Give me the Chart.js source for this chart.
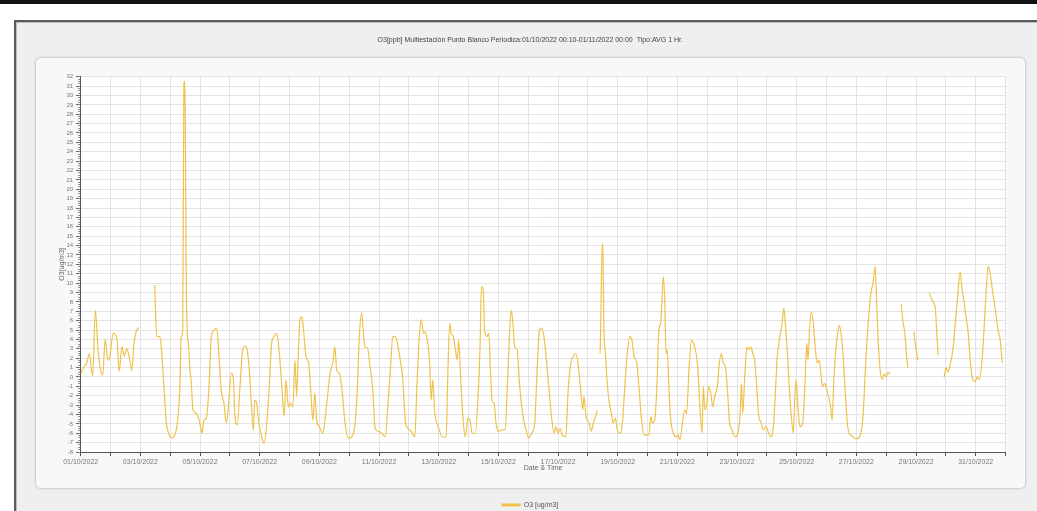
<!DOCTYPE html>
<html>
<head>
<meta charset="utf-8">
<script src="https://cdn.jsdelivr.net/npm/chart.js@4/dist/chart.umd.min.js"></script>
<style>
  html, body { margin: 0; padding: 0; width: 1037px; height: 511px; overflow: hidden; background: #ffffff; }
  .topbar { position: absolute; left: 0; top: 0; width: 1037px; height: 4px; background: #111; }
  .outer { position: absolute; left: 14px; top: 20px; width: 1040px; height: 520px; background: #efefef;
           border-top: 2px solid #5c5c5c; border-left: 2px solid #5c5c5c; box-shadow: inset 1px 1px 0 #bdbdbd; }
  .inner { position: absolute; left: 35px; top: 57px; width: 989px; height: 430px; background: #f8f8f8;
           border: 1px solid #d2d2d2; border-radius: 6px; box-shadow: 0 0 3px rgba(0,0,0,0.10); }
  canvas { position: absolute; left: 0; top: 0; }
</style>
</head>
<body>
<div class="topbar"></div>
<div class="outer"></div>
<div class="inner"></div>
<canvas id="c" width="1037" height="522"></canvas>
<script>
// Time in days since 01/10/2022 00:00, O3 values; null = gap in the record
const days = [
  0.00,0.09,0.20,0.29,0.40,0.49,0.59,0.67,0.74,0.82,0.91,0.98,1.09,1.21,1.29,1.38,1.46,1.54,1.63,1.71,1.79,1.88,1.96,
  2.20,
  2.48,2.50,2.55,2.65,2.70,2.79,2.87,2.95,3.04,3.15,3.24,3.32,3.37,3.42,3.46,3.49,3.51,3.54,3.57,3.62,3.66,3.71,3.76,3.88,3.99,
  4.07,4.13,4.21,4.29,4.38,4.47,4.56,4.63,4.71,4.80,4.88,4.96,5.05,5.12,5.17,5.25,5.34,5.43,5.51,5.58,5.65,5.72,5.79,5.83,5.90,5.97,
  6.07,6.14,6.24,6.32,6.40,6.48,6.57,6.66,6.74,6.82,6.88,6.96,7.02,7.11,7.18,7.24,7.29,7.35,7.41,7.46,7.55,7.64,7.71,7.78,7.85,7.91,
  8.00,8.11,8.25,8.36,8.45,8.52,8.58,8.67,8.76,8.86,8.97,9.08,9.20,9.27,9.34,9.42,9.47,9.53,9.61,9.70,9.79,9.87,9.98,
  10.09,10.21,10.30,10.38,10.46,10.55,10.64,10.71,10.79,10.88,10.97,11.08,11.20,11.27,11.35,11.42,11.49,11.55,11.62,11.69,11.75,11.80,11.87,11.94,
  12.02,12.11,12.25,12.31,12.37,12.42,12.49,12.56,12.62,12.67,12.74,12.81,12.89,12.98,13.05,13.12,13.23,13.32,13.39,13.43,13.49,13.54,13.61,13.68,13.73,13.79,13.86,13.92,
  14.01,14.12,14.23,14.30,14.37,14.43,14.49,14.55,14.63,14.70,14.77,14.85,14.93,15.02,15.11,15.22,15.30,15.38,15.44,15.53,15.62,15.70,15.78,15.87,15.93,
  16.00,16.07,16.14,16.26,16.34,16.43,16.51,16.59,16.67,16.76,16.83,16.87,16.94,17.04,17.12,17.18,17.26,17.32,
  17.37,
  17.41,17.43,17.48,17.50,17.54,17.59,17.65,17.72,17.79,17.85,17.92,17.99,18.08,18.16,18.24,18.32,18.41,18.48,18.55,18.64,18.72,18.79,18.88,
  19.05,19.11,19.16,19.24,19.31,19.38,19.44,19.49,19.53,19.58,19.62,19.66,19.72,19.78,19.87,19.95,
  20.02,20.09,20.17,20.25,20.31,20.39,20.47,20.54,20.63,20.69,20.76,20.83,20.87,20.92,20.99,21.05,21.12,21.19,21.25,21.34,21.41,21.48,21.54,21.61,21.68,21.74,21.83,21.94,
  22.03,22.10,22.15,22.19,22.26,22.33,22.39,22.46,22.53,22.59,22.66,22.73,22.80,22.88,22.97,23.06,23.15,23.22,23.29,23.35,23.44,23.51,23.57,23.62,23.69,23.75,23.82,23.89,23.93,23.98,
  24.05,24.11,24.20,24.27,24.34,24.38,24.43,24.49,24.56,24.63,24.69,24.76,24.83,24.87,24.94,25.01,25.07,25.14,25.19,25.25,25.32,25.39,25.43,25.50,25.56,25.63,25.72,25.86,25.99,
  26.12,26.23,26.29,26.36,26.43,26.49,26.56,26.63,26.68,26.73,26.79,26.86,26.93,27.00,27.06,27.13,
  27.30,
  27.50,27.56,27.63,27.69,27.73,
  27.83,
  27.93,28.00,28.06,
  28.25,
  28.44,28.50,28.57,28.64,28.71,28.74,
  28.84,
  28.94,29.01,29.07,29.14,29.24,29.31,29.38,29.48,29.54,29.61,29.67,29.74,29.81,29.88,29.98,
  30.05,30.12,30.22,30.28,30.35,30.42,30.49,30.55,30.62,30.69,30.75,30.82,30.89
];
const o3 = [
  0.3,1.0,1.45,2.5,0.1,7.1,2.5,0.7,0.2,4.0,1.8,2.2,4.65,4.1,0.6,3.2,2.25,3.0,2.1,0.7,3.6,5.0,5.25,
  null,
  9.8,7.85,4.3,4.3,3.2,-1.0,-4.9,-6.0,-6.5,-6.2,-4.9,-1.4,4.3,5.0,31.3,31.5,25.6,9.6,5.0,3.2,0.75,-0.7,-3.5,-3.9,-4.9,
  -6.0,-4.6,-4.4,-1.7,4.3,5.0,5.2,2.5,-1.4,-2.8,-4.9,-2.8,0.4,-0.3,-4.2,-5.1,-1.0,2.9,3.3,2.9,0.75,-2.8,-5.7,-2.5,-2.8,-4.9,
  -6.4,-7.1,-4.9,-1.0,3.6,4.3,4.65,2.5,-1.0,-4.2,-0.3,-3.2,-2.8,-3.2,1.8,-2.1,2.2,6.1,6.4,5.4,2.2,1.5,-1.4,-4.6,-1.7,-4.6,
  -5.3,-6.0,-2.8,0.4,1.5,3.2,0.75,0.4,-1.4,-4.9,-6.5,-6.4,-4.9,-1.4,4.3,6.8,5.0,3.2,3.1,1.1,-1.4,-5.5,-5.8,
  -6.0,-6.4,-2.8,0.75,4.3,4.3,3.2,1.8,0.04,-4.6,-5.5,-5.8,-6.4,-1.0,4.3,6.1,4.65,4.8,3.9,1.8,-2.5,-0.3,-3.9,-4.9,
  -5.65,-6.4,-6.4,0.75,5.7,4.65,4.3,2.9,1.8,3.9,-0.3,-4.2,-6.4,-4.4,-4.6,-6.0,-6.0,-2.1,3.6,9.6,9.3,5.0,4.3,4.65,1.1,-2.5,-2.8,-4.9,
  -5.8,-5.65,-5.65,-1.0,4.3,7.1,5.7,3.2,2.9,-0.3,-2.8,-4.6,-5.65,-6.5,-6.0,-4.9,0.75,5.0,5.2,4.3,1.5,-1.4,-4.2,-6.0,-5.3,
  -6.0,-5.5,-6.2,-6.4,-1.4,1.5,2.2,2.5,1.5,-1.4,-3.5,-2.1,-4.2,-4.9,-5.8,-4.9,-4.2,-3.5,
  null,
  2.5,5.0,14.2,14.2,5.0,2.5,-0.7,-2.8,-3.9,-4.9,-4.4,-5.65,-6.0,-4.9,-1.0,2.5,4.3,3.9,2.2,1.5,-1.4,-4.2,-6.2,
  -6.2,-4.2,-4.9,-4.6,-1.4,5.0,5.7,8.6,10.7,7.85,2.5,2.9,-1.4,-4.6,-6.0,-6.4,
  -6.2,-6.7,-4.9,-3.5,-3.9,0.75,3.9,3.6,2.5,0.75,-3.5,-6.0,-1.0,-3.5,-2.8,-1.0,-1.7,-3.2,-2.1,-1.0,1.5,2.5,1.5,1.1,-1.4,-4.6,-5.65,-6.4,
  -6.0,-4.2,-0.7,-3.9,0.04,3.2,2.9,3.2,2.5,1.8,-1.0,-4.2,-4.8,-5.65,-5.3,-6.0,-6.4,-5.3,-1.4,2.2,4.3,5.7,7.3,5.7,2.5,-1.0,-4.2,-6.0,-2.8,-0.3,
  -3.5,-5.3,-4.9,-1.4,3.6,1.8,5.0,6.95,5.7,2.9,1.5,1.8,-0.3,-1.0,-0.7,-1.4,-2.1,-3.2,-4.6,0.04,3.2,5.0,5.5,4.3,2.2,-1.7,-5.5,-6.3,-6.6,
  -6.3,-4.0,0.0,4.0,7.0,9.0,10.0,11.8,8.0,4.0,1.0,-0.3,0.3,0.0,0.5,0.3,
  null,
  7.8,6.0,4.5,2.0,1.0,
  null,
  4.8,3.0,1.8,
  null,
  8.95,8.5,8.0,7.5,4.0,2.3,
  null,
  -0.1,1.0,0.5,1.2,3.0,5.5,8.0,11.2,9.5,8.0,6.5,5.0,2.0,0.0,-0.5,
  0.0,-0.3,2.0,5.0,9.0,11.8,11.0,9.5,8.0,6.5,5.0,4.0,1.5
];
const xTickLabels = ['01/10/2022','03/10/2022','05/10/2022','07/10/2022','09/10/2022','11/10/2022','13/10/2022','15/10/2022',
  '17/10/2022','19/10/2022','21/10/2022','23/10/2022','25/10/2022','27/10/2022','29/10/2022','31/10/2022'];
const titleText = 'O3[ppb] Multiestación Punto Blanco Periodica:01/10/2022 00:10-01/11/2022 00:00  Tipo:AVG 1 Hr.';
const seriesLabel = 'O3 [ug/m3]';
const yTitle = 'O3[ug/m3]';
const xTitle = 'Date & Time';

const FONT = '"Liberation Sans", Arial, sans-serif';
const points = days.map((d, i) => ({ x: d, y: o3[i] }));

const plotBg = {
  id: 'plotBg',
  beforeDraw(chart) {
    const a = chart.chartArea, c = chart.ctx;
    c.save(); c.fillStyle = '#ffffff'; c.fillRect(a.left, a.top, a.right - a.left, a.bottom - a.top); c.restore();
  }
};

new Chart(document.getElementById('c'), {
  type: 'line',
  data: { datasets: [{
    label: seriesLabel, data: points, borderColor: '#efc24a', backgroundColor: '#efc24a',
    borderWidth: 1.2, pointRadius: 0, cubicInterpolationMode: 'monotone', spanGaps: false, fill: false
  }]},
  options: {
    responsive: false, animation: false, devicePixelRatio: 1,
    layout: { padding: { left: 55, right: 31.5, top: 0, bottom: 3.5 } },
    plugins: {
      title: { display: true, text: titleText, font: { family: FONT, size: 7, weight: 'normal' }, color: '#444',
               padding: { top: 35.8, bottom: 32.5 } },
      legend: { display: true, position: 'bottom',
                labels: { boxWidth: 18, boxHeight: 2, padding: 10, font: { family: FONT, size: 7 }, color: '#555' } },
      tooltip: { enabled: false }
    },
    scales: {
      x: {
        type: 'linear', min: 0, max: 31,
        afterFit: s => { s.height = 39.5; },
        ticks: { stepSize: 1, autoSkip: false, maxRotation: 0, minRotation: 0, padding: 1.5,
                 callback: v => (Number.isInteger(v) && v % 2 === 0 && xTickLabels[v / 2]) ? xTickLabels[v / 2] : '',
                 font: { family: FONT, size: 7 }, color: '#777' },
        grid: { color: '#e3e3e3', tickColor: '#555', tickLength: 4 },
        border: { color: '#555' },
        title: { display: true, text: xTitle, font: { family: FONT, size: 7 }, color: '#666', padding: { top: 0, bottom: 19.3 } }
      },
      y: {
        position: 'left', weight: 1, min: -8, max: 32,
        afterFit: s => { s.width = 25.7; },
        ticks: { stepSize: 1, autoSkip: false, padding: 3, font: { family: FONT, size: 6 }, color: '#777' },
        grid: { color: '#e3e3e3', tickColor: '#555', tickLength: 4.5 },
        border: { color: '#555' },
        title: { display: true, text: yTitle, font: { family: FONT, size: 7 }, color: '#666', padding: { top: 2.8, bottom: 0 } }
      },
      yMinor: {
        position: 'left', weight: 0, min: -8, max: 32,
        afterFit: s => { s.width = 0; },
        ticks: { stepSize: 0.25, autoSkip: false, callback: () => '' },
        grid: { drawOnChartArea: false, tickColor: '#888', tickLength: 2.5 },
        border: { display: false }
      }
    }
  },
  plugins: [plotBg]
});
</script>
</body>
</html>
